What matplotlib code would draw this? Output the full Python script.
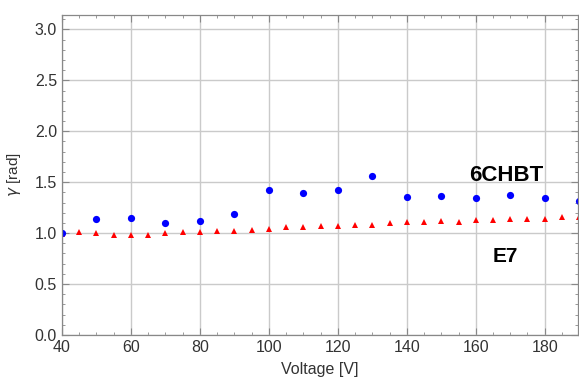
import numpy as np
import matplotlib.pyplot as plt
from matplotlib.ticker import MultipleLocator

plt.rcParams['font.family'] = ['Liberation Sans', 'DejaVu Sans']

# 6CHBT measurements (blue circles)
volt_6chbt = [40, 50, 60, 70, 80, 90, 100, 110, 120, 130, 140, 150, 160, 170, 180, 190]
gamma_6chbt = [1.00, 1.134, 1.144, 1.095, 1.12, 1.183, 1.425, 1.389, 1.42, 1.559,
               1.353, 1.366, 1.34, 1.375, 1.34, 1.314]

# E7 measurements (red triangles)
volt_e7 = [40, 45, 50, 55, 60, 65, 70, 75, 80, 85, 90, 95, 100, 105, 110, 115,
           120, 125, 130, 135, 140, 145, 150, 155, 160, 165, 170, 175, 180, 185, 190]
gamma_e7 = [0.99, 1.007, 0.997, 0.983, 0.983, 0.983, 0.997, 1.007, 1.007, 1.02,
            1.02, 1.03, 1.042, 1.056, 1.056, 1.069, 1.069, 1.082, 1.082, 1.095,
            1.105, 1.105, 1.118, 1.114, 1.127, 1.127, 1.14, 1.14, 1.14, 1.154, 1.154]

fig = plt.figure(figsize=(5.79, 3.85), dpi=100)
ax = fig.add_axes([0.107, 0.13, 0.891, 0.831])

ax.plot(volt_e7, gamma_e7, linestyle='none', marker='^', color='red',
        markersize=4.2, markeredgewidth=0)
ax.plot(volt_6chbt, gamma_6chbt, linestyle='none', marker='o', color='blue',
        markersize=5.2, markeredgewidth=0)

ax.set_xlim(40, 189.6)
ax.set_ylim(0, np.pi)

ax.xaxis.set_major_locator(MultipleLocator(20))
ax.xaxis.set_minor_locator(MultipleLocator(5))
ax.yaxis.set_major_locator(MultipleLocator(0.5))
ax.yaxis.set_minor_locator(MultipleLocator(0.1))
ax.yaxis.set_major_formatter(plt.FuncFormatter(lambda v, p: f'{v:.1f}'))

ax.grid(True, which='major', color='#cacaca', linewidth=1.0)
ax.set_axisbelow(True)

ax.tick_params(which='both', direction='in', top=True, right=True,
               colors='#888888', labelcolor='#333333', labelsize=11.5)
ax.tick_params(which='major', length=5, width=0.8)
ax.tick_params(which='minor', length=2.5, width=0.6)
for s in ax.spines.values():
    s.set_color('#888888')
    s.set_linewidth(0.9)

ax.set_xlabel('Voltage [V]', fontsize=11.5, color='#333333', labelpad=5)
ax.set_ylabel(r'$\gamma$ [rad]', fontsize=11, color='#333333', labelpad=0)
ax.yaxis.set_label_coords(-0.076, 0.5)

ax.text(158, 1.565, '6CHBT', fontsize=16, fontweight='bold', color='black',
        ha='left', va='center')
ax.text(165, 0.77, 'E7', fontsize=15, fontweight='bold', color='black',
        ha='left', va='center')

fig.savefig('out.png', dpi=100)
